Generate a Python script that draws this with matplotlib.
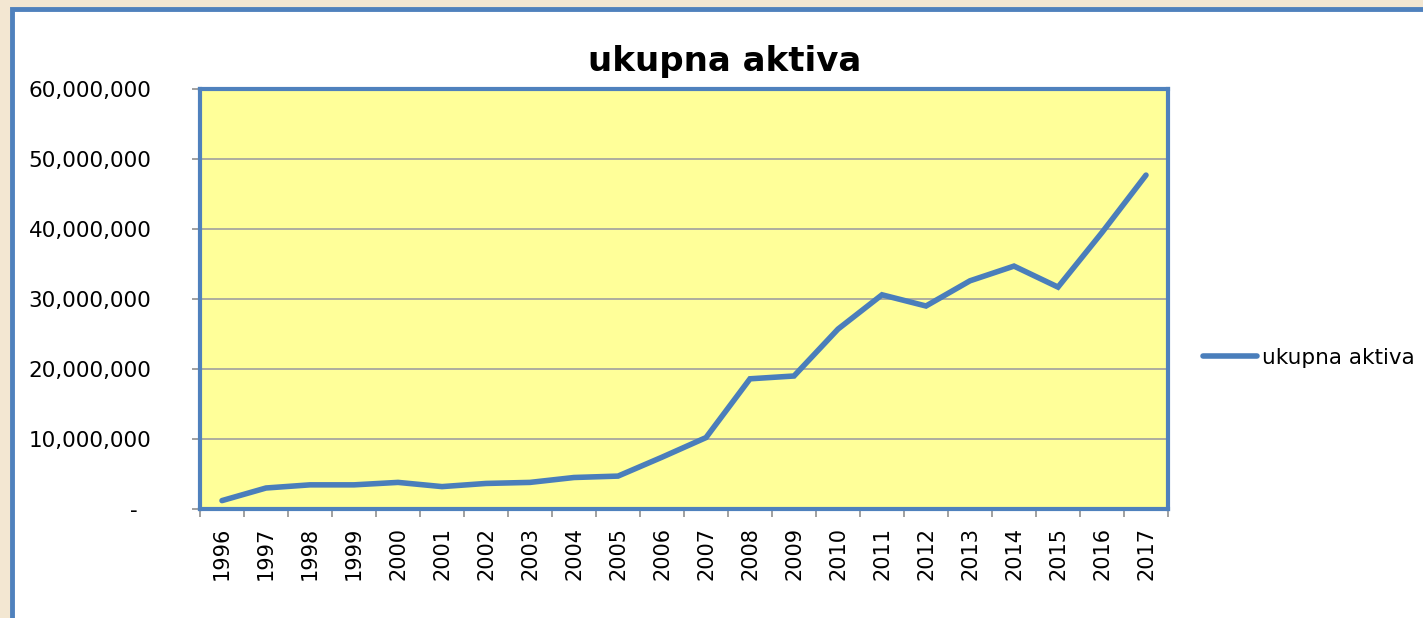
import matplotlib
matplotlib.use('Agg')
import matplotlib.pyplot as plt
from matplotlib.patches import Rectangle
from matplotlib.ticker import FuncFormatter, FixedLocator
import numpy as np

years = ['1996', '1997', '1998', '1999', '2000', '2001', '2002', '2003', '2004', '2005', '2006',
         '2007', '2008', '2009', '2010', '2011', '2012', '2013', '2014', '2015', '2016', '2017']
ukupna_aktiva = [1.2e6, 3.0e6, 3.45e6, 3.45e6, 3.8e6, 3.2e6, 3.65e6, 3.8e6, 4.5e6, 4.7e6, 7.4e6,
                 10.2e6, 18.6e6, 19.0e6, 25.7e6, 30.6e6, 29.0e6, 32.6e6, 34.7e6, 31.7e6, 39.5e6, 47.7e6]

W, H = 1423, 618
blue = '#4f81bd'
fig = plt.figure(figsize=(W / 100, H / 100), dpi=100, facecolor='#f3e7d2')

# white chart area with blue border (runs off the right/bottom edges)
frame = Rectangle((12 / W, -0.05), 1.1, 1 - 9 / H + 0.05, transform=fig.transFigure,
                  facecolor='white', edgecolor=blue, linewidth=3.5, clip_on=False, zorder=-1)
fig.patches.append(frame)

ax = fig.add_axes([200 / W, (H - 509) / H, (1168 - 200) / W, (509 - 89) / H])
ax.set_zorder(1)
ax.set_facecolor('#ffff99')

x = np.arange(len(years))
ax.plot(x, ukupna_aktiva, color='#4a7ebb', linewidth=4, solid_capstyle='round',
        solid_joinstyle='miter', label='ukupna aktiva', zorder=3)

ax.set_xlim(-0.5, len(years) - 0.5)
ax.set_ylim(0, 60e6)
ax.set_yticks(np.arange(0, 60e6 + 1, 10e6))
ax.yaxis.set_major_formatter(FuncFormatter(lambda v, p: '-  ' if v == 0 else f'{v:,.0f}'))
ax.grid(axis='y', color='#a0a0a0', linewidth=1.2)
ax.set_axisbelow(True)

ax.set_xticks(x)
ax.set_xticklabels(years, rotation=90)
ax.xaxis.set_minor_locator(FixedLocator(np.arange(-0.5, len(years), 1)))
ax.tick_params(axis='x', which='major', length=0, pad=13, labelsize=15, colors='black')
ax.tick_params(axis='x', which='minor', length=6, width=1.2, color='#909090')
ax.tick_params(axis='y', length=6, width=1.2, color='#909090', pad=29, labelsize=15.5)

for s in ax.spines.values():
    s.set_color(blue)
    s.set_linewidth(3)

fig.text(725 / W, 1 - 62 / H, 'ukupna aktiva', ha='center', va='center',
         fontsize=24.5, fontweight='bold')

fig.legend(loc='center left', bbox_to_anchor=(1203 / W, 1 - 358 / H), frameon=False,
           fontsize=15.5, handlelength=2.5, handletextpad=0.25, borderpad=0, borderaxespad=0)

fig.savefig('out.png', dpi=100, facecolor=fig.get_facecolor())
